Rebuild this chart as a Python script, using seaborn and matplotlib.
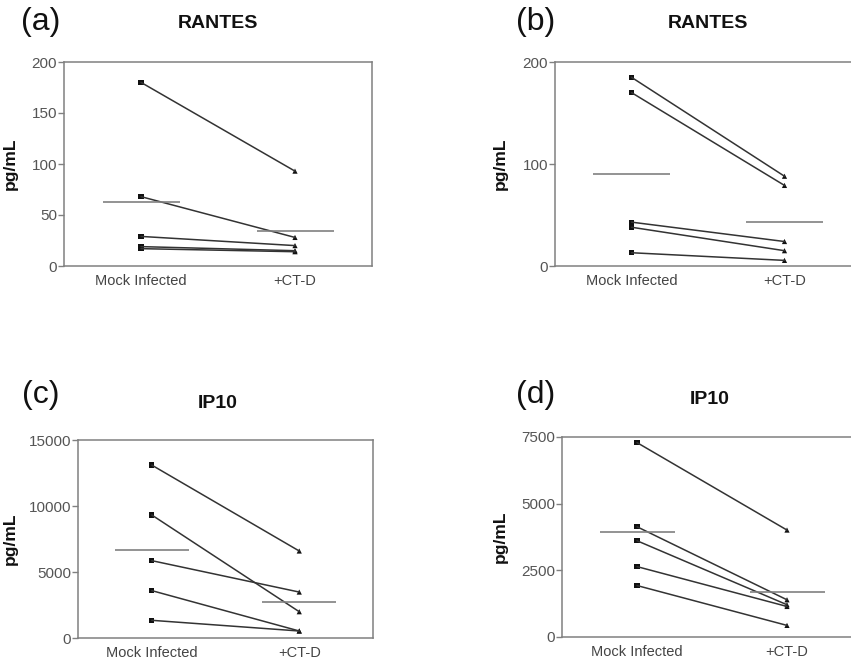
import pandas as pd
import seaborn as sns
import matplotlib.pyplot as plt
import numpy as np

conditions = ["Mock Infected", "+CT-D"]

# panel (a) RANTES
a_mock = [180, 68, 29, 19, 17]
a_ctd = [93, 28, 20, 15, 14]
a_means = [62.4, 34.3]

# panel (b) RANTES
b_mock = [185, 170, 43, 38, 13]
b_ctd = [88, 79, 24, 15, 5.5]
b_means = [90, 43]

# panel (c) IP10
c_mock = [13100, 9320, 5860, 3590, 1340]
c_ctd = [6590, 1990, 3480, 530, 530]
c_means = [6670, 2730]

# panel (d) IP10
d_mock = [7290, 4135, 3610, 2640, 1930]
d_ctd = [4010, 1395, 1210, 1145, 435]
d_means = [3950, 1670]

panel_letters = ["(a)", "(b)", "(c)", "(d)"]
titles = ["RANTES", "RANTES", "IP10", "IP10"]
yticks = [[0, 50, 100, 150, 200], [0, 100, 200],
          [0, 5000, 10000, 15000], [0, 2500, 5000, 7500]]

sns.set_theme(style="white")
plt.rcParams['font.family'] = ['Liberation Sans', 'DejaVu Sans']

fig = plt.figure(figsize=(8.51, 6.62), dpi=100)

W, H = 851, 662
# axes boxes in pixels: left, top, right, bottom
boxes = [(64, 62, 372, 266), (555, 62, 861, 266),
         (78, 440, 373, 638), (562, 437, 862, 637)]
letter_pos = [(41, 22), (536, 22), (41, 395), (536, 395)]
title_pos = [(218, 24), (708, 24), (218, 404), (710, 400)]
ylabel_x = [18, 508, 18, 508]

panels = [(a_mock, a_ctd, a_means), (b_mock, b_ctd, b_means),
          (c_mock, c_ctd, c_means), (d_mock, d_ctd, d_means)]

line_col = "#333333"
gray = "#808080"

for i, (mock, ctd, means) in enumerate(panels):
    l, t, r, b = boxes[i]
    ax = fig.add_axes([l / W, 1 - b / H, (r - l) / W, (b - t) / H])

    n = len(mock)
    df = pd.DataFrame({
        "subject": list(range(n)) * 2,
        "condition": [conditions[0]] * n + [conditions[1]] * n,
        "x": [0] * n + [1] * n,
        "value": mock + ctd,
    })

    sns.lineplot(data=df, x="x", y="value", units="subject", estimator=None,
                 color=line_col, linewidth=1.1, ax=ax, legend=False)
    sns.scatterplot(data=df, x="x", y="value", style="condition",
                    markers={conditions[0]: "s", conditions[1]: "^"},
                    color="#111111", s=14, linewidth=0, ax=ax, legend=False)

    for j, m in enumerate(means):
        ax.hlines(m, j - 0.25, j + 0.25, color=gray, linewidth=1.2)

    ax.set_xlim(-0.5, 1.5)
    ax.set_ylim(0, yticks[i][-1])
    ax.set_xticks([0, 1])
    ax.set_xticklabels(conditions)
    ax.set_yticks(yticks[i])
    ax.set_xlabel("")
    ax.set_ylabel("pg/mL", fontsize=12.5, fontweight="bold", color="#111111")
    ax.yaxis.set_label_coords((ylabel_x[i] - l) / (r - l), 0.5)

    ax.tick_params(axis="x", length=0, pad=6, labelsize=10.5, colors="#444444")
    ax.tick_params(axis="y", length=4, width=1, pad=1, labelsize=11,
                   colors="#555555", left=True, direction="out")
    ax.tick_params(axis="y", color=gray)
    for sp in ax.spines.values():
        sp.set_visible(True)
        sp.set_color(gray)
        sp.set_linewidth(1.1)

    fig.text(letter_pos[i][0] / W, 1 - letter_pos[i][1] / H, panel_letters[i],
             fontsize=23, ha="center", va="center", color="#111111")
    fig.text(title_pos[i][0] / W, 1 - title_pos[i][1] / H, titles[i],
             fontsize=14, fontweight="bold", ha="center", va="center",
             color="#111111")

fig.savefig("out.png", dpi=100)
